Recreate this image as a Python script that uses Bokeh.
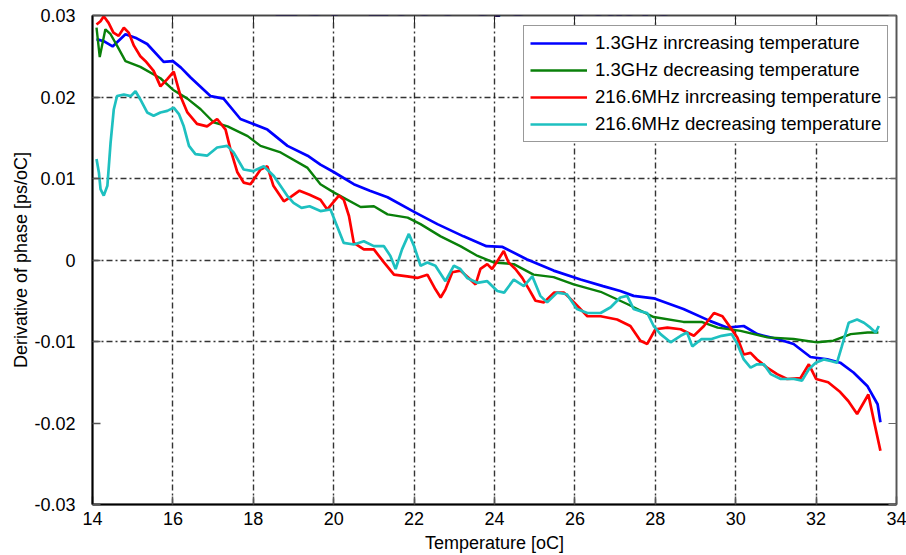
from bokeh.plotting import figure
from bokeh.models import (LinearAxis, FixedTicker, CustomJSTickFormatter, Label,
                          Range1d, CustomLabelingPolicy)
from bokeh.embed import file_html
from bokeh.resources import INLINE

# ---------------- data ----------------
title_text = "LCF 1000 5/8 - cable"
x_label = "Temperature [oC]"
y_label = "Derivative of phase [ps/oC]"

x_min, x_max = 14, 34
y_min, y_max = -0.03, 0.03
x_ticks = [14, 16, 18, 20, 22, 24, 26, 28, 30, 32, 34]
y_ticks = [-0.03, -0.02, -0.01, 0.0, 0.01, 0.02, 0.03]
y_tick_labels = ["-0.03", "-0.02", "-0.01", "0", "0.01", "0.02", "0.03"]
x_grid_ticks = [16, 18, 20, 22, 24, 26, 28, 30, 32]
y_grid_ticks = [-0.01, 0.0, 0.01, 0.02]

series_names = [
    "1.3GHz inrcreasing temperature",
    "1.3GHz decreasing temperature",
    "216.6MHz inrcreasing temperature",
    "216.6MHz decreasing temperature",
]

t_ghz_up = [14.1, 14.3, 14.5, 14.82, 15.1, 15.36, 15.77, 16.0, 16.2, 16.44,
            16.94, 17.26, 17.68, 18.0, 18.35, 18.85, 19.35, 19.67, 20.0, 20.5,
            20.9, 21.34, 22.0, 22.58, 23.23, 23.8, 24.2, 24.8, 25.47, 26.14,
            26.7, 27.13, 27.46, 27.96, 28.7, 29.37, 29.8, 30.2, 30.54, 31.04,
            31.44, 31.86, 32.28, 32.6, 32.93, 33.28, 33.53, 33.6]
v_ghz_up = [0.0271, 0.0268, 0.0262, 0.0277, 0.0272, 0.0265, 0.0243, 0.0244, 0.0236, 0.0224,
            0.0201, 0.0198, 0.0173, 0.0167, 0.0160, 0.0140, 0.0128, 0.0117, 0.0108, 0.0093,
            0.0085, 0.0077, 0.0059, 0.0044, 0.0029, 0.0017, 0.0016, 0.0001, -0.0013, -0.0024,
            -0.0032, -0.0038, -0.0044, -0.0047, -0.0060, -0.0075, -0.0083, -0.0081, -0.0091, -0.0097,
            -0.0103, -0.0119, -0.0122, -0.0126, -0.0138, -0.0155, -0.0177, -0.0199]

t_ghz_down = [14.1, 14.18, 14.32, 14.45, 14.61, 14.82, 15.19, 15.69, 16.0, 16.36,
              16.69, 17.01, 17.36, 17.86, 18.18, 18.68, 19.35, 19.67, 20.0, 20.67,
              21.0, 21.34, 21.84, 22.16, 22.66, 23.15, 23.58, 23.98, 24.48, 24.97,
              25.47, 25.97, 26.64, 27.3, 27.96, 28.7, 29.15, 29.55, 30.12, 30.79,
              31.44, 32.03, 32.43, 32.86, 33.28, 33.55]
v_ghz_down = [0.0285, 0.0249, 0.0283, 0.0277, 0.0263, 0.0244, 0.0237, 0.0223, 0.0209, 0.0198,
              0.0185, 0.0169, 0.0164, 0.0152, 0.0140, 0.0132, 0.0113, 0.0093, 0.0083, 0.0065,
              0.0066, 0.0056, 0.0052, 0.0044, 0.0029, 0.0017, 0.0005, -0.0003, -0.0005, -0.0018,
              -0.0021, -0.0030, -0.0039, -0.0054, -0.0070, -0.0076, -0.0076, -0.0083, -0.0087, -0.0095,
              -0.0097, -0.0101, -0.0099, -0.0091, -0.0089, -0.0089]

t_mhz_up = [14.1, 14.2, 14.28, 14.4, 14.52, 14.65, 14.78, 14.9, 15.03, 15.19,
            15.32, 15.52, 15.69, 15.86, 16.02, 16.19, 16.36, 16.6, 16.85, 17.1,
            17.31, 17.43, 17.6, 17.76, 17.93, 18.18, 18.35, 18.5, 18.76, 18.95,
            19.15, 19.4, 19.67, 19.84, 20.13, 20.25, 20.38, 20.5, 20.75, 21.0,
            21.25, 21.5, 21.83, 22.08, 22.33, 22.53, 22.66, 22.78, 22.95, 23.15,
            23.36, 23.53, 23.65, 23.82, 23.94, 24.1, 24.23, 24.35, 24.52, 24.69,
            24.86, 25.02, 25.23, 25.48, 25.73, 25.98, 26.31, 26.64, 27.05, 27.38,
            27.63, 27.8, 28.0, 28.3, 28.63, 28.96, 29.21, 29.46, 29.67, 29.87,
            30.04, 30.2, 30.37, 30.53, 30.78, 31.03, 31.28, 31.61, 31.82, 32.0,
            32.3, 32.6, 32.8, 33.02, 33.3, 33.45, 33.6]
v_mhz_up = [0.0289, 0.0293, 0.0299, 0.0291, 0.0279, 0.0275, 0.0285, 0.0279, 0.0263, 0.0250,
            0.0244, 0.0232, 0.0213, 0.0222, 0.0231, 0.0201, 0.0181, 0.0167, 0.0164, 0.0173,
            0.0160, 0.0136, 0.0108, 0.0095, 0.0093, 0.0111, 0.0115, 0.0091, 0.0072, 0.0078,
            0.0085, 0.0080, 0.0074, 0.0062, 0.0079, 0.0074, 0.0054, 0.0021, 0.0013, 0.0013,
            -0.0003, -0.0018, -0.0020, -0.0022, -0.0018, -0.0036, -0.0046, -0.0036, -0.0015, -0.0013,
            -0.0022, -0.0030, -0.0011, -0.0005, -0.0011, 0.0001, 0.0011, -0.0003, -0.0011, -0.0022,
            -0.0036, -0.0050, -0.0052, -0.0040, -0.0040, -0.0052, -0.0069, -0.0069, -0.0073, -0.0081,
            -0.0099, -0.0103, -0.0085, -0.0083, -0.0085, -0.0093, -0.0081, -0.0065, -0.0069, -0.0083,
            -0.0095, -0.0116, -0.0114, -0.0122, -0.0132, -0.0140, -0.0146, -0.0145, -0.0128, -0.0146,
            -0.0150, -0.0162, -0.0173, -0.0189, -0.0165, -0.0200, -0.0234]

t_mhz_down = [14.1, 14.16, 14.2, 14.28, 14.37, 14.45, 14.53, 14.61, 14.78, 14.95,
              15.07, 15.19, 15.36, 15.52, 15.69, 15.86, 16.02, 16.15, 16.27, 16.4,
              16.56, 16.85, 17.1, 17.35, 17.51, 17.76, 18.0, 18.26, 18.51, 18.84,
              19.0, 19.2, 19.4, 19.67, 19.92, 20.08, 20.25, 20.5, 20.75, 21.0,
              21.25, 21.41, 21.54, 21.7, 21.87, 22.0, 22.16, 22.33, 22.53, 22.78,
              22.99, 23.15, 23.32, 23.57, 23.82, 24.07, 24.24, 24.48, 24.73, 24.94,
              25.14, 25.31, 25.56, 25.8, 26.05, 26.31, 26.64, 26.89, 27.13, 27.3,
              27.46, 27.63, 27.8, 27.96, 28.13, 28.38, 28.63, 28.79, 28.92, 29.15,
              29.4, 29.65, 29.9, 30.04, 30.2, 30.37, 30.53, 30.7, 30.87, 31.12,
              31.45, 31.65, 31.82, 31.99, 32.19, 32.36, 32.52, 32.64, 32.81, 33.02,
              33.19, 33.35, 33.48, 33.56]
v_mhz_down = [0.0124, 0.0107, 0.0087, 0.0079, 0.0091, 0.0144, 0.0185, 0.0201, 0.0203, 0.0201,
              0.0207, 0.0197, 0.0181, 0.0177, 0.0181, 0.0183, 0.0187, 0.0179, 0.0164, 0.0140,
              0.0130, 0.0128, 0.0138, 0.0140, 0.0132, 0.0111, 0.0109, 0.0115, 0.0103, 0.0079,
              0.0070, 0.0064, 0.0066, 0.0060, 0.0062, 0.0042, 0.0021, 0.0019, 0.0023, 0.0017,
              0.0017, 0.0005, -0.0011, 0.0013, 0.0032, 0.0017, -0.0007, -0.0003, -0.0007, -0.0026,
              -0.0007, -0.0011, -0.0022, -0.0028, -0.0026, -0.0038, -0.0040, -0.0024, -0.0032, -0.0020,
              -0.0044, -0.0052, -0.0040, -0.0042, -0.0060, -0.0065, -0.0065, -0.0058, -0.0046, -0.0044,
              -0.0060, -0.0063, -0.0065, -0.0081, -0.0091, -0.0101, -0.0093, -0.0089, -0.0106, -0.0097,
              -0.0097, -0.0093, -0.0091, -0.0103, -0.0122, -0.0132, -0.0128, -0.0128, -0.0140, -0.0146,
              -0.0146, -0.0148, -0.0134, -0.0126, -0.0122, -0.0124, -0.0126, -0.0106, -0.0077, -0.0073,
              -0.0077, -0.0083, -0.0089, -0.0081]

# ---------------- figure ----------------
FONT = "Liberation Sans"
FRAME_H = 555 - 15 - 49   # plot frame height in pixels
FRAME_W = 906 - 92 - 10   # plot frame width in pixels

p = figure(width=906, height=555, output_backend="svg", toolbar_location=None,
           x_range=Range1d(x_min, x_max), y_range=Range1d(y_min, y_max),
           min_border_left=92, min_border_right=10, min_border_top=15,
           min_border_bottom=49)
p.background_fill_color = "white"
p.border_fill_color = "white"
p.outline_line_color = "#333333"
p.outline_line_width = 1.5

fmt_y = CustomJSTickFormatter(args=dict(tvals=y_ticks, tlabels=y_tick_labels), code="""
    for (let i = 0; i < tvals.length; i++) {
        if (Math.abs(tvals[i] - tick) < 1e-9) { return tlabels[i]; }
    }
    return '';
""")

for ax in p.xaxis:
    ax.ticker = FixedTicker(ticks=x_ticks)
    ax.axis_label = x_label
for ax in p.yaxis:
    ax.ticker = FixedTicker(ticks=y_ticks)
    ax.formatter = fmt_y
    ax.axis_label = y_label

for ax in list(p.xaxis) + list(p.yaxis):
    ax.axis_line_color = "black"
    ax.axis_line_width = 2
    ax.major_tick_in = 8
    ax.major_tick_out = 0
    ax.major_tick_line_color = "#555555"
    ax.major_tick_line_width = 1.5
    ax.minor_tick_line_color = None
    ax.major_label_text_font = FONT
    ax.major_label_text_font_size = "18px"
    ax.major_label_text_color = "black"
    ax.axis_label_text_font = FONT
    ax.axis_label_text_font_size = "18px"
    ax.axis_label_text_font_style = "normal"
    ax.axis_label_text_color = "black"

p.xaxis.major_label_standoff = 7
p.xaxis.axis_label_standoff = 5
p.yaxis.major_label_standoff = 17
p.yaxis.axis_label_standoff = 0

# top and right box axes (ticks only, labels suppressed by policy)
hide_all = CustomLabelingPolicy(code="""
    for (const i of indices) { indices.unset(i) }
""")
top_axis = LinearAxis(ticker=FixedTicker(ticks=x_ticks), major_label_text_font_size="1px",
                      major_label_standoff=0, major_tick_in=8, major_tick_out=0,
                      major_label_policy=hide_all,
                      axis_line_color="#444444", axis_line_width=1.5,
                      major_tick_line_color="#222222", minor_tick_line_color=None)
right_axis = LinearAxis(ticker=FixedTicker(ticks=y_ticks), major_label_text_font_size="1px",
                        major_label_standoff=0, major_tick_in=8, major_tick_out=0,
                        major_label_policy=hide_all,
                        axis_line_color="#555555", axis_line_width=1.5,
                        major_tick_line_color="#666666", minor_tick_line_color=None)
p.add_layout(top_axis, "above")
p.add_layout(right_axis, "right")

# grid
p.xgrid.ticker = FixedTicker(ticks=x_grid_ticks)
p.ygrid.ticker = FixedTicker(ticks=y_grid_ticks)
for g in (p.xgrid, p.ygrid):
    g.grid_line_color = "#111111"
    g.grid_line_alpha = 0.85
    g.grid_line_width = 1.4
    g.grid_line_dash = "6 3 2 3"

# lines
colors = ["#0000ff", "#0a800a", "#ff0000", "#1ec0c0"]
widths = [2.7, 2.4, 2.7, 2.7]
datasets = [(t_ghz_up, v_ghz_up), (t_ghz_down, v_ghz_down),
            (t_mhz_up, v_mhz_up), (t_mhz_down, v_mhz_down)]
for (tx, vy), c, w, name in zip(datasets, colors, widths, series_names):
    p.line(tx, vy, line_color=c, line_width=w, legend_label=name)

lg = p.legend[0]
lg.location = (431, 362)
lg.label_text_font = FONT
lg.label_text_font_size = "18.6px"
lg.label_text_color = "black"
lg.glyph_width = 57
lg.glyph_height = 20
lg.label_height = 20
lg.label_standoff = 8
lg.spacing = 5
lg.padding = 6
lg.margin = 0
lg.border_line_color = "#333333"
lg.border_line_width = 1.2
lg.background_fill_color = "white"
lg.background_fill_alpha = 1.0

# title, mostly cut off by the top edge as in the reference
# (anchor just inside the canvas top so that the lower part of the glyphs shows)
title_x = x_min + (x_max - x_min) * (473 - 92) / FRAME_W
title_y = y_max + (y_max - y_min) * 14 / FRAME_H
title = Label(x=title_x, y=title_y, text=title_text,
              text_font=FONT, text_font_size="42px", text_font_style="bold",
              text_color="#1e1450", text_align="center", text_baseline="alphabetic")
p.add_layout(title)

open("out.html", "w").write(file_html(p, INLINE))
